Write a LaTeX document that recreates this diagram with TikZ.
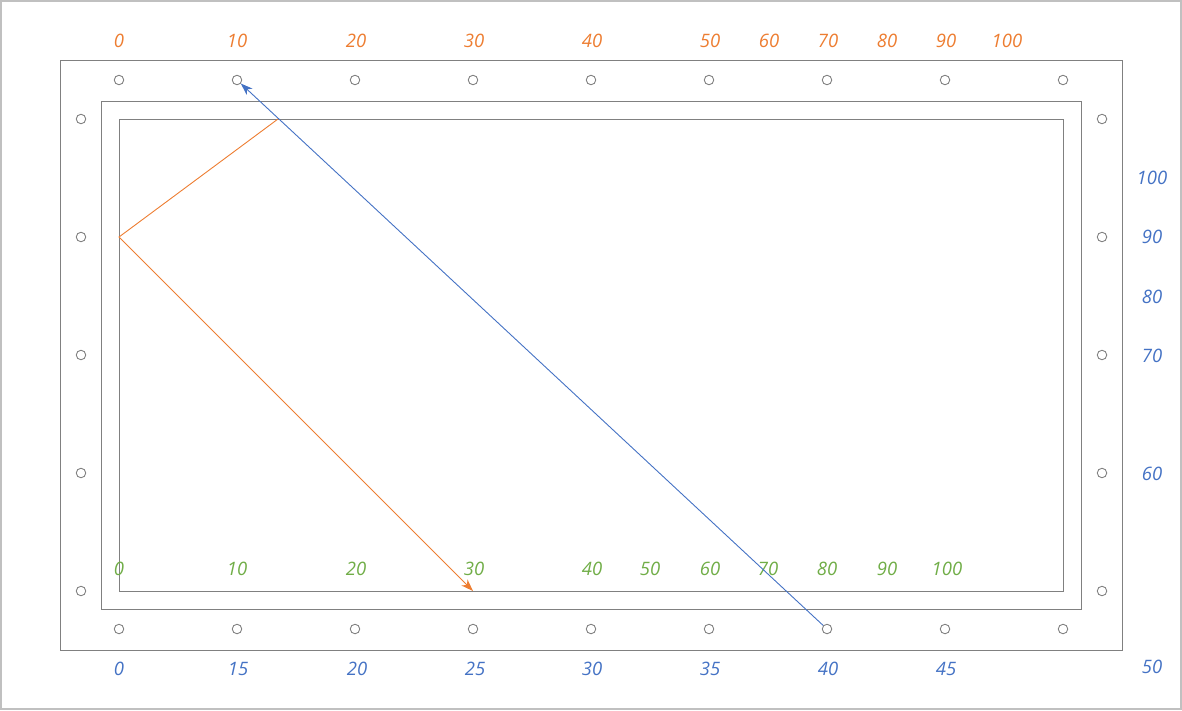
\documentclass[tikz,border=0pt]{standalone}
\usepackage{fontspec}
\setmainfont{Open Sans}
\usetikzlibrary{arrows.meta}
\definecolor{lnorange}{HTML}{ED7D31}
\definecolor{lngreen}{HTML}{70AD47}
\definecolor{lnblue}{HTML}{4472C4}
\definecolor{framegray}{HTML}{808080}
\definecolor{bordergray}{HTML}{C0C0C0}
\begin{document}
\begin{tikzpicture}[x=1pt,y=-1pt,
  frame/.style={draw=framegray,line width=1pt},
  hole/.style={circle,draw=framegray,line width=0.9pt,minimum size=9.5pt,inner sep=0pt},
  lab/.style={font=\fontsize{18.5}{18.5}\selectfont\itshape,inner sep=0pt,anchor=center},
  orangelab/.style={lab,text=lnorange},
  greenlab/.style={lab,text=lngreen},
  bluelab/.style={lab,text=lnblue},
  conn/.style={line width=0.9pt,-{Stealth[length=12pt,width=8.5pt,inset=3.5pt]}}
]
\useasboundingbox (0,0) rectangle (1182,710);
\draw[bordergray,line width=2pt] (1,1) rectangle (1181,709);
% frames
\draw[frame] (60,60) rectangle (1122,650);
\draw[frame] (101,101) rectangle (1081,609);
\draw[frame] (119,119) rectangle (1063,591);
% holes
\foreach \x [count=\i] in {119,237,355,473,591,709,827,945,1063} {
  \node[hole] (t\i) at (\x,80) {};
  \node[hole] (b\i) at (\x,629) {};
}
\foreach \y [count=\i] in {119,237,355,473,591} {
  \node[hole] (l\i) at (81,\y) {};
  \node[hole] (r\i) at (1102,\y) {};
}
% top orange labels
\foreach \x/\t [count=\i] in {119/0,237/10,356/20,474/30,592/40,710/50,769/60,828/70,887/80,946/90,1007/100}
  \node[orangelab] (ot\i) at (\x,41) {\t};
% green labels
\foreach \x/\t [count=\i] in {119/0,237/10,356/20,474/30,592/40,650/50,710/60,768/70,827/80,887/90,947/100}
  \node[greenlab] (gl\i) at (\x,569) {\t};
% bottom blue labels
\foreach \x/\t [count=\i] in {119/0,238/15,357/20,475/25,592/30,710/35,828/40,946/45}
  \node[bluelab] (bl\i) at (\x,669) {\t};
\node[bluelab] (bl9) at (1152,667) {50};
% right blue labels
\foreach \y/\t [count=\i] in {178/100,237/90,297/80,356/70,474/60}
  \node[bluelab] (rl\i) at (1152,\y) {\t};
% connectors
\coordinate (o1) at (278,119);
\coordinate (o2) at (119,237);
\coordinate (o3) at (473,591);
\draw[conn,lnorange] (o1) -- (o2) -- (o3);
\draw[conn,lnblue] (b7) -- (t2);
\end{tikzpicture}
\end{document}
